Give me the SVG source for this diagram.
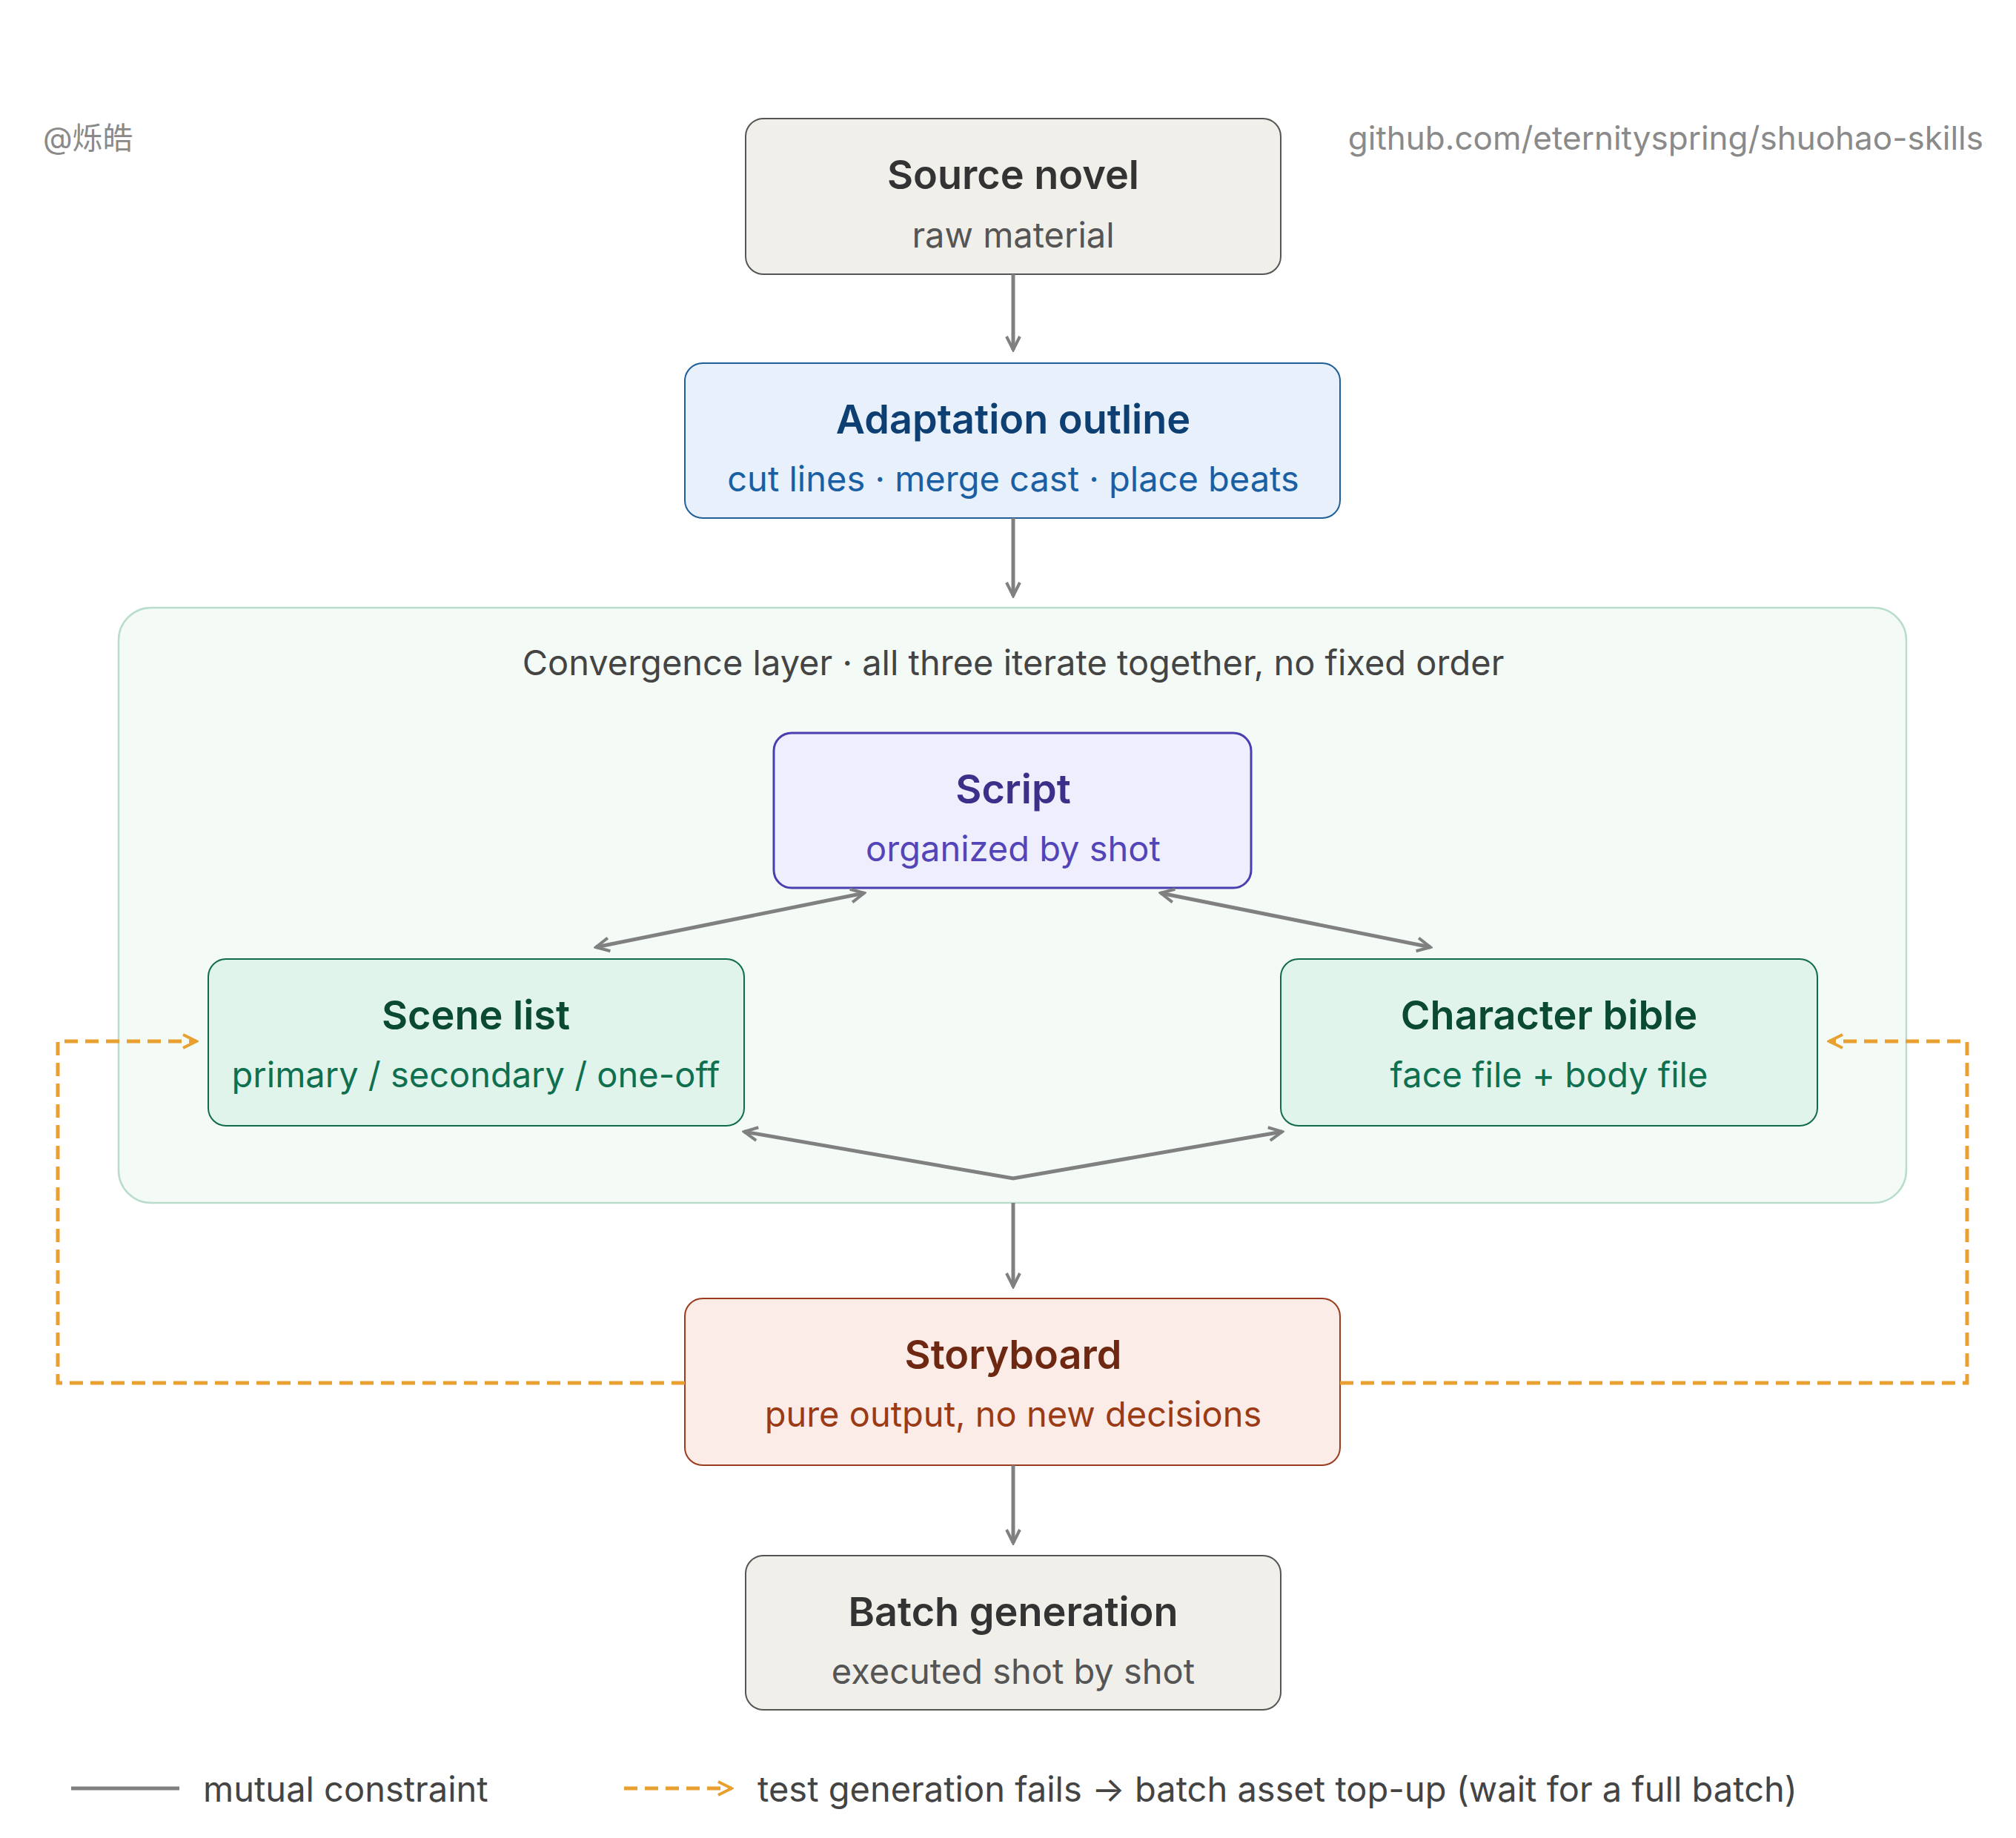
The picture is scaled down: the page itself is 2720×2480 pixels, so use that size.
<svg xmlns="http://www.w3.org/2000/svg" width="2720" height="2480" viewBox="0 0 2720 2480">
<style>
text{font-family:Inter,"Noto Sans","Noto Sans CJK SC",sans-serif;text-anchor:middle;dominant-baseline:central}
.t{font-size:54px;font-weight:600}
.s{font-size:47px}
.c{fill:none;stroke:#808080;stroke-width:5}
.d{fill:none;stroke:#e8a030;stroke-width:5;stroke-dasharray:18 10}
</style>
<defs>
<marker id="a" viewBox="0 0 24 24" refX="21" refY="12" markerWidth="24" markerHeight="24" markerUnits="userSpaceOnUse" orient="auto-start-reverse"><path d="M3 3L21 12L3 21" fill="none" stroke="#808080" stroke-width="4"/></marker>
<marker id="o" viewBox="0 0 24 24" refX="21" refY="12" markerWidth="24" markerHeight="24" markerUnits="userSpaceOnUse" orient="auto"><path d="M3 3L21 12L3 21" fill="none" stroke="#e8a030" stroke-width="4"/></marker>
</defs>
<rect width="2720" height="2480" fill="#fff"/>
<text x="58" y="186" style="text-anchor:start;font-size:41px;fill:#8a8a8a">@烁皓</text>
<text x="2676" y="186" style="text-anchor:end;font-size:44px;fill:#8a8a8a">github.com/eternityspring/shuohao-skills</text>
<g id="container"><rect x="160" y="820" width="2412" height="803" rx="44" fill="#f4fbf7" stroke="#b9dccb" stroke-width="2.5"/>
<text x="1367" y="893" class="s" fill="#444">Convergence layer · all three iterate together, no fixed order</text></g>
<g id="source"><rect x="1006" y="160" width="722" height="210" rx="24" fill="#f0efea" stroke="#555" stroke-width="2"/>
<text x="1367" y="235" class="t" fill="#333">Source novel</text><text x="1367" y="316" class="s" fill="#555">raw material</text></g>
<g id="outline"><rect x="924" y="490" width="884" height="209" rx="24" fill="#e7f0fb" stroke="#1f5f99" stroke-width="2"/>
<text x="1367" y="565" class="t" fill="#0d3f73">Adaptation outline</text><text x="1367" y="645" class="s" fill="#1a5fa3">cut lines · merge cast · place beats</text></g>
<g id="script"><rect x="1044" y="989" width="644" height="209" rx="24" fill="#eeeefc" stroke="#4a3fb0" stroke-width="3"/>
<text x="1367" y="1064" class="t" fill="#3b2f8a">Script</text><text x="1367" y="1144" class="s" fill="#5345b8">organized by shot</text></g>
<g id="scene"><rect x="281" y="1294" width="723" height="225" rx="24" fill="#e1f4ec" stroke="#0f6b4b" stroke-width="2"/>
<text x="642" y="1369" class="t" fill="#0a4a33">Scene list</text><text x="642" y="1449" class="s" fill="#0f7050">primary / secondary / one-off</text></g>
<g id="character"><rect x="1728" y="1294" width="724" height="225" rx="24" fill="#e1f4ec" stroke="#0f6b4b" stroke-width="2"/>
<text x="2090" y="1369" class="t" fill="#0a4a33">Character bible</text><text x="2090" y="1449" class="s" fill="#0f7050">face file + body file</text></g>
<g id="storyboard"><rect x="924" y="1752" width="884" height="225" rx="24" fill="#fbece7" stroke="#9a3b1e" stroke-width="2"/>
<text x="1367" y="1827" class="t" fill="#6e2812">Storyboard</text><text x="1367" y="1907" class="s" fill="#9a3b16">pure output, no new decisions</text></g>
<g id="batch"><rect x="1006" y="2099" width="722" height="208" rx="24" fill="#f0efea" stroke="#555" stroke-width="2"/>
<text x="1367" y="2174" class="t" fill="#333">Batch generation</text><text x="1367" y="2254" class="s" fill="#555">executed shot by shot</text></g>
<g id="connectors">
<path class="c" d="M1367 370V472" marker-end="url(#a)"/>
<path class="c" d="M1367 699V804" marker-end="url(#a)"/>
<path class="c" d="M1166 1205L804 1278" marker-start="url(#a)" marker-end="url(#a)"/>
<path class="c" d="M1566 1205L1930 1278" marker-start="url(#a)" marker-end="url(#a)"/>
<path class="c" d="M1004 1527L1367 1590L1730 1527" marker-start="url(#a)" marker-end="url(#a)"/>
<path class="c" d="M1367 1623V1736" marker-end="url(#a)"/>
<path class="c" d="M1367 1977V2082" marker-end="url(#a)"/>
<path class="d" d="M924 1866H78V1405H265" marker-end="url(#o)"/>
<path class="d" d="M1808 1866H2654V1405H2468" marker-end="url(#o)"/>
</g>
<g id="legend">
<path d="M96 2413H242" stroke="#808080" stroke-width="5"/>
<text x="274" y="2413" class="s" fill="#444" style="text-anchor:start">mutual constraint</text>
<path class="d" d="M842 2413H987" marker-end="url(#o)"/>
<text x="1022" y="2413" class="s" fill="#444" style="text-anchor:start">test generation fails → batch asset top-up (wait for a full batch)</text>
</g>
</svg>
